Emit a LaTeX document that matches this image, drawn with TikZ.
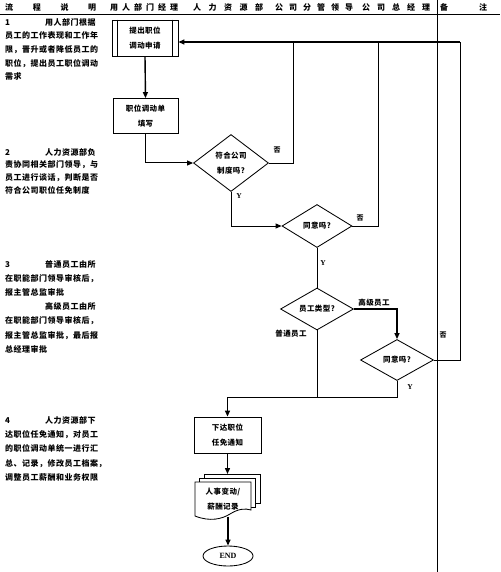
\documentclass[tikz,border=0pt]{standalone}
\usepackage{fontspec}
\setmainfont{Noto Sans CJK SC}[LetterSpace=6]
\newfontfamily\latinserif{Liberation Serif}
\usetikzlibrary{shapes.geometric,arrows.meta}
\newcommand{\spreadbox}[2]{\makebox[#1][s]{#2}}
\begin{document}
\begin{tikzpicture}[x=1pt,y=-1pt,
  conn/.style={line width=0.85pt},
  arr/.style={line width=1.4pt,-{Triangle[length=6pt,width=5pt]}},
  arrt/.style={line width=1pt,-{Triangle[length=6pt,width=5pt]}},
  proc/.style={draw,line width=0.85pt,inner sep=0pt,align=center,font=\bfseries\fontsize{7.5}{14.5}\selectfont},
  dec/.style={draw,diamond,line width=0.85pt,shape aspect=1.4,inner sep=0pt,align=center,font=\bfseries\fontsize{7.5}{15}\selectfont},
  body/.style={anchor=north west,inner sep=0pt,align=left},
  hdr/.style={anchor=west,inner sep=0pt,font=\bfseries\fontsize{8}{9}\selectfont},
  lab/.style={inner sep=0pt,font=\bfseries\fontsize{7}{8}\selectfont},
  ylab/.style={inner sep=0pt,font=\latinserif\bfseries\fontsize{7.5}{8}\selectfont}]
\useasboundingbox (0,0) rectangle (500,572);
% header
\node[hdr] (h1) at (5,7) {\spreadbox{91pt}{流\hfill 程\hfill 说\hfill 明}};
\node[hdr] (h2) at (110,7) {\spreadbox{68pt}{用\hfill 人\hfill 部\hfill 门\hfill 经\hfill 理}};
\node[hdr] (h3) at (193,7) {\spreadbox{70pt}{人\hfill 力\hfill 资\hfill 源\hfill 部}};
\node[hdr] (h4) at (275,7) {\spreadbox{78pt}{公\hfill 司\hfill 分\hfill 管\hfill 领\hfill 导}};
\node[hdr] (h5) at (362,7) {\spreadbox{68pt}{公\hfill 司\hfill 总\hfill 经\hfill 理}};
\node[hdr] (h6) at (440,7) {\spreadbox{47pt}{备\hfill 注}};
\draw[line width=1.2pt] (0,14.5) -- (500,14.5);
\draw[line width=0.85pt] (437,0) -- (437,572);
% left descriptions
\node[body,font=\bfseries\fontsize{8}{13.7}\selectfont] (t1) at (5,18) {\makebox[40pt][l]{1}用人部门根据\\员工的工作表现和工作年\\限，晋升或者降低员工的\\职位，提出员工职位调动\\需求};
\node[body,font=\bfseries\fontsize{8}{12.7}\selectfont] (t2) at (5,148) {\makebox[40pt][l]{2}人力资源部负\\责协同相关部门领导，与\\员工进行谈话，判断是否\\符合公司职位任免制度};
\node[body,font=\bfseries\fontsize{8}{14.2}\selectfont] (t3) at (5,260) {\makebox[40pt][l]{3}普通员工由所\\在职能部门领导审核后，\\报主管总监审批\\ \hspace*{40pt}高级员工由所\\在职能部门领导审核后，\\报主管总监审批，最后报\\总经理审批};
\node[body,font=\bfseries\fontsize{8}{14.3}\selectfont] (t4) at (5,416) {\makebox[40pt][l]{4}人力资源部下\\达职位任免通知，对员工\\的职位调动单统一进行汇\\总、记录，修改员工档案，\\调整员工薪酬和业务权限};
% flow nodes
\node[proc,minimum width=66pt,minimum height=36pt] (b1) at (145,38) {提出职位\\调动申请};
\draw[conn] ([xshift=6pt]b1.north west) -- ([xshift=6pt]b1.south west);
\draw[conn] ([xshift=-6pt]b1.north east) -- ([xshift=-6pt]b1.south east);
\node[proc,minimum width=65pt,minimum height=35pt] (b2) at (145.5,116) {职位调动单\\填写};
\node[dec,minimum width=75pt,minimum height=57pt] (d1) at (231,163) {符合公司\\制度吗?};
\node[dec,minimum width=70pt,minimum height=43pt] (d2) at (317,226) {同意吗?};
\node[dec,minimum width=73pt,minimum height=42pt] (d3) at (317,309) {员工类型?};
\node[dec,minimum width=73pt,minimum height=41pt] (d4) at (397,360) {同意吗?};
\node[proc,minimum width=67pt,minimum height=36pt] (b3) at (227.5,435) {下达职位\\任免通知};
% multi-document
\draw[conn,fill=white] (204,474) rectangle (260,503);
\draw[conn,fill=white] (199.5,478) rectangle (255.5,507);
\draw[conn,fill=white] (195,482) -- (251,482) -- (251,510)
  .. controls (245,508) and (238,509) .. (230,514)
  .. controls (222,519) and (210,522) .. (195,516) -- cycle;
\node[inner sep=0pt,align=center,font=\bfseries\fontsize{7.5}{15}\selectfont] (doc) at (223,499.5) {人事变动/\\薪酬记录};
\coordinate (docin) at (227.5,474);
\coordinate (docout) at (228,516.5);
\node[draw,ellipse,line width=0.85pt,minimum width=50pt,minimum height=20pt,inner sep=0pt,font=\latinserif\bfseries\fontsize{8}{9}\selectfont] (end) at (228,556) {END};
% connectors
\draw[arr] (b1.south) -- (b2.north);
\draw[arrt] (b2.south) |- (d1.west);
\coordinate (r1) at (293,42);
\coordinate (r2) at (378,42);
\coordinate (r3) at (460,42);
\draw[conn] (d1.east) -| (r1);
\draw[conn] (d2.east) -| (r2);
\draw[conn] (d4.east) -| (r3);
\draw[arr] (r3) -- (b1.east |- r3);
\draw[arrt] (d1.south) |- (d2.west);
\draw[conn] (d2.south) -- (d3.north);
\draw[arr] (d3.east) -| (d4.north);
\coordinate (m) at (227.5,397);
\draw[conn] (d3.south) -- (d3.south |- m);
\draw[conn] (d4.south) |- (m);
\draw[arr] (m) -- (b3.north);
\draw[arr] (b3.south) -- (docin);
\draw[arr] (docout) -- (end.north);
% labels
\node[lab] (n1) at (277,150) {否};
\node[lab] (n2) at (360,218) {否};
\node[lab] (n3) at (443,335) {否};
\node[ylab] (y1) at (239,196) {Y};
\node[ylab] (y2) at (323,263) {Y};
\node[ylab] (y3) at (410,387) {Y};
\node[lab,font=\bfseries\fontsize{7.5}{8}\selectfont] (gj) at (374,303) {高级员工};
\node[lab,font=\bfseries\fontsize{7.5}{8}\selectfont] (pt) at (291,334) {普通员工};
\end{tikzpicture}
\end{document}
